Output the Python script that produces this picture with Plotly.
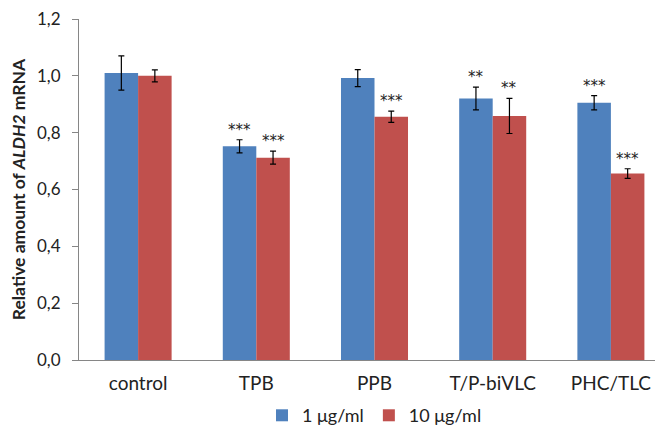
import plotly.graph_objects as go

categories = ["control", "TPB", "PPB", "T/P-biVLC", "PHC/TLC"]
series_names = ["1 μg/ml", "10 μg/ml"]
values_1 = [1.01, 0.752, 0.992, 0.920, 0.905]
errors_1 = [0.060, 0.023, 0.030, 0.040, 0.025]
values_10 = [1.00, 0.712, 0.856, 0.859, 0.656]
errors_10 = [0.021, 0.023, 0.020, 0.062, 0.017]
stars_1 = ["", "***", "", "**", "***"]
stars_10 = ["", "***", "***", "**", "***"]
y_ticks = [0.0, 0.2, 0.4, 0.6, 0.8, 1.0, 1.2]

blue = "#4F81BD"
red = "#C0504D"
axis_col = "#868686"
font_family = "Lato, 'Open Sans', sans-serif"

fig = go.Figure()
fig.add_trace(go.Bar(
    x=categories, y=values_1, name=series_names[0],
    marker=dict(color=blue, line=dict(width=0)),
    error_y=dict(type="data", array=errors_1, visible=True, color="black", thickness=1.2, width=3),
))
fig.add_trace(go.Bar(
    x=categories, y=values_10, name=series_names[1],
    marker=dict(color=red, line=dict(width=0)),
    error_y=dict(type="data", array=errors_10, visible=True, color="black", thickness=1.2, width=3),
))

half = 16.75
for cat, v, e, s in zip(categories, values_1, errors_1, stars_1):
    if s:
        fig.add_annotation(x=cat, y=v + e, text=s, showarrow=False, xshift=-half, yshift=10,
                           yanchor="middle", font=dict(family="DejaVu Sans", size=15, color="#222"))
for cat, v, e, s in zip(categories, values_10, errors_10, stars_10):
    if s:
        fig.add_annotation(x=cat, y=v + e, text=s, showarrow=False, xshift=half, yshift=10,
                           yanchor="middle", font=dict(family="DejaVu Sans", size=15, color="#222"))

fig.update_layout(
    width=663, height=427,
    margin=dict(l=71, r=1, t=11, b=68),
    paper_bgcolor="white", plot_bgcolor="white",
    barmode="group", bargap=0.433, bargroupgap=0,
    separators=",.",
    font=dict(family=font_family, size=18, color="#222"),
    showlegend=True,
    legend=dict(orientation="h", x=0.5, xanchor="center", y=-0.163, yanchor="middle",
                font=dict(size=18), itemwidth=30, traceorder="normal"),
    xaxis=dict(showline=True, linecolor=axis_col, linewidth=1, ticks="", showgrid=False,
               tickfont=dict(size=19), ticklabelstandoff=6, automargin=False),
    yaxis=dict(range=[0, 1.2], tickvals=y_ticks, tickformat=".1f", showline=True,
               linecolor=axis_col, linewidth=1, ticks="outside", ticklen=6, tickcolor=axis_col,
               showgrid=False, zeroline=False, tickfont=dict(size=17), ticklabelstandoff=8,
               ticklabeloverflow="allow", automargin=False,
               title=dict(text="<b>Relative amount of <i>ALDH2</i> mRNA</b>", font=dict(size=17.5), standoff=12)),
)

fig.write_html("out.html")
